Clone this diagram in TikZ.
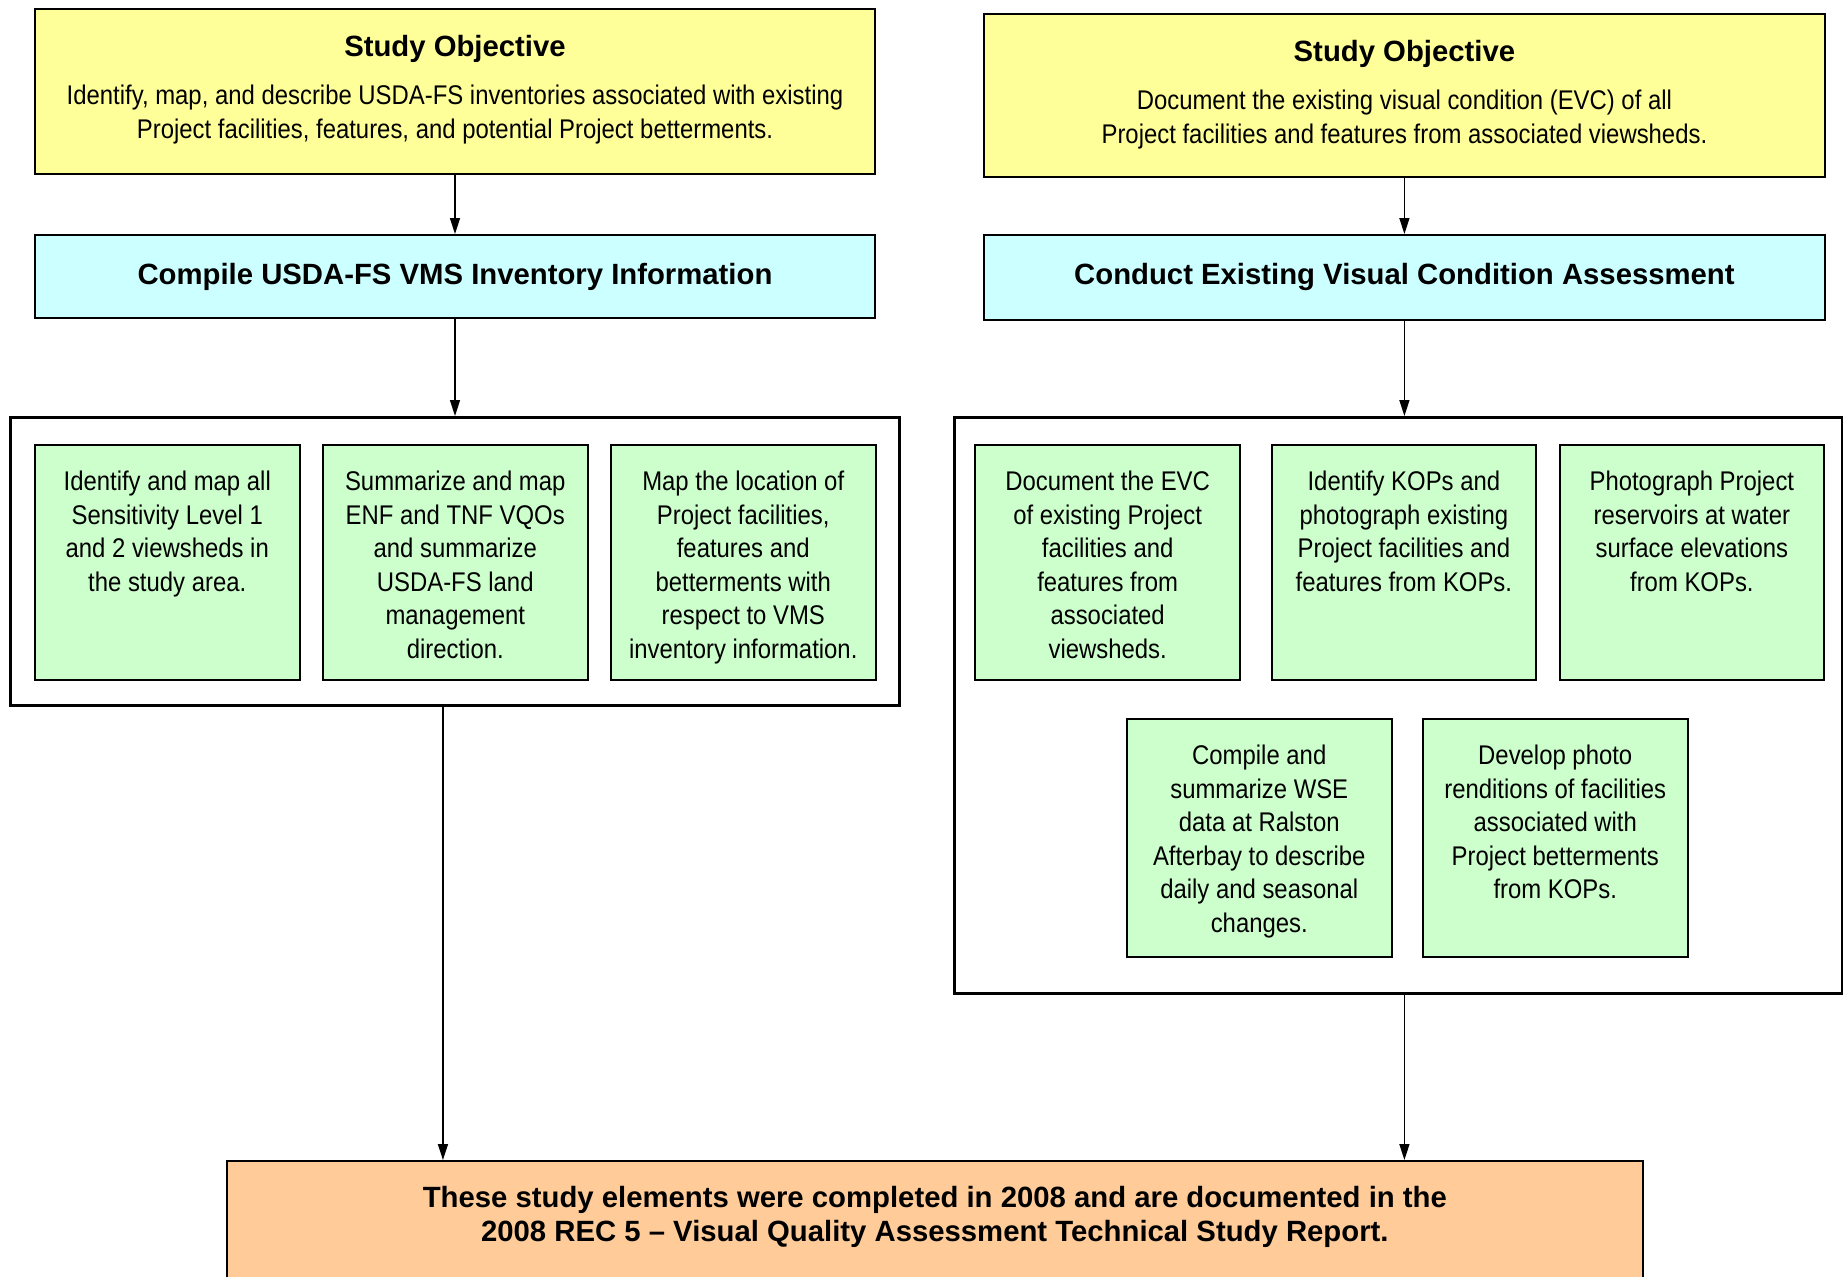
\documentclass[tikz,border=0pt]{standalone}
\usepackage{fontspec}
\setmainfont{Liberation Sans}[FakeStretch=0.885]
\newfontfamily\ttlfont{Liberation Sans}
\usetikzlibrary{arrows.meta,calc}
\definecolor{yel}{HTML}{FFFF99}
\definecolor{cya}{HTML}{CCFFFF}
\definecolor{grn}{HTML}{CCFFCC}
\definecolor{org}{HTML}{FFCC99}
\tikzset{
  box/.style={draw=black, line width=2pt, anchor=north west, inner sep=0pt},
  ybox/.style={box, fill=yel},
  cbox/.style={box, fill=cya},
  gbox/.style={box, fill=grn, minimum width=264.5pt},
  obox/.style={box, fill=org},
  cont/.style={box, line width=2.5pt},
  txt/.style={inner sep=0pt, align=center, anchor=north, font=\fontsize{27}{33.5}\selectfont},
  ttl/.style={inner sep=0pt, align=center, font=\ttlfont\fontsize{29.3}{34}\selectfont\bfseries},
  arr/.style={line width=1.5pt, -{Triangle[length=16pt,width=10pt]}},
}
\begin{document}
\begin{tikzpicture}[x=1pt,y=-1pt]
\useasboundingbox (0,0) rectangle (1843,1276);
\clip (0,0) rectangle (1843,1276);
% left column
\node[ybox, minimum width=840pt, minimum height=165pt] (ly) at (34,8) {};
\node[ttl, anchor=north] (lyt) at ($(ly.north)+(0,27)$) {Study Objective};
\node[txt] (lyb) at ($(ly.north)+(0,77)$) {Identify, map, and describe USDA-FS inventories associated with existing\\Project facilities, features, and potential Project betterments.};
\node[cbox, minimum width=840pt, minimum height=83pt] (lc) at (34,234) {};
\node[ttl] (lct) at (lc.center) {Compile USDA-FS VMS Inventory Information};
\node[cont, minimum width=888.6pt, minimum height=288pt] (lk) at (9.4,416) {};
\node[gbox, minimum height=235pt] (g1) at (34,444) {};
\node[gbox, minimum height=235pt] (g2) at (322,444) {};
\node[gbox, minimum height=235pt] (g3) at (610,444) {};
\node[txt] (t1) at ($(g1.north)+(0,27)$) {Identify and map all\\Sensitivity Level 1\\and 2 viewsheds in\\the study area.};
\node[txt] (t2) at ($(g2.north)+(0,27)$) {Summarize and map\\ENF and TNF VQOs\\and summarize\\USDA-FS land\\management\\direction.};
\node[txt] (t3) at ($(g3.north)+(0,27)$) {Map the location of\\Project facilities,\\features and\\betterments with\\respect to VMS\\inventory information.};
% right column
\node[ybox, minimum width=841.6pt, minimum height=163.4pt] (ry) at (982.6,12.9) {};
\node[ttl, anchor=north] (ryt) at ($(ry.north)+(0,27)$) {Study Objective};
\node[txt] (ryb) at ($(ry.north)+(0,77)$) {Document the existing visual condition (EVC) of all\\Project facilities and features from associated viewsheds.};
\node[cbox, minimum width=841.6pt, minimum height=84.6pt] (rc) at (982.6,234) {};
\node[ttl] (rct) at (rc.center) {Conduct Existing Visual Condition Assessment};
\node[cont, minimum width=887.8pt, minimum height=576pt] (rk) at (953.2,416) {};
\node[gbox, minimum height=235pt] (h1) at (974.4,444) {};
\node[gbox, minimum height=235pt] (h2) at (1270.6,444) {};
\node[gbox, minimum height=235pt] (h3) at (1558.6,444) {};
\node[gbox, minimum height=237.4pt] (h4) at (1126,718.2) {};
\node[gbox, minimum height=237.4pt] (h5) at (1422,718.2) {};
\node[txt] (u1) at ($(h1.north)+(0,27)$) {Document the EVC\\of existing Project\\facilities and\\features from\\associated\\viewsheds.};
\node[txt] (u2) at ($(h2.north)+(0,27)$) {Identify KOPs and\\photograph existing\\Project facilities and\\features from KOPs.};
\node[txt] (u3) at ($(h3.north)+(0,27)$) {Photograph Project\\reservoirs at water\\surface elevations\\from KOPs.};
\node[txt] (u4) at ($(h4.north)+(0,27)$) {Compile and\\summarize WSE\\data at Ralston\\Afterbay to describe\\daily and seasonal\\changes.};
\node[txt] (u5) at ($(h5.north)+(0,27)$) {Develop photo\\renditions of facilities\\associated with\\Project betterments\\from KOPs.};
% bottom
\node[obox, minimum width=1416.3pt, minimum height=140pt] (ob) at (225.7,1160) {};
\node[ttl, anchor=north] (obt) at ($(ob.north)+(0,26)$) {These study elements were completed in 2008 and are documented in the\\2008 REC 5 – Visual Quality Assessment Technical Study Report.};
% connectors
\draw[arr] (ly.south) -- (ly.south |- lc.north);
\draw[arr] (lc.south) -- (lc.south |- lk.north);
\draw[arr] ([xshift=-12pt]lk.south) -- ([xshift=-12pt]lk.south |- ob.north);
\draw[arr] (ry.south) -- (ry.south |- rc.north);
\draw[arr] (rc.south) -- (rc.south |- rk.north);
\draw[arr] (rc.south |- rk.south) -- (rc.south |- ob.north);
\end{tikzpicture}
\end{document}
